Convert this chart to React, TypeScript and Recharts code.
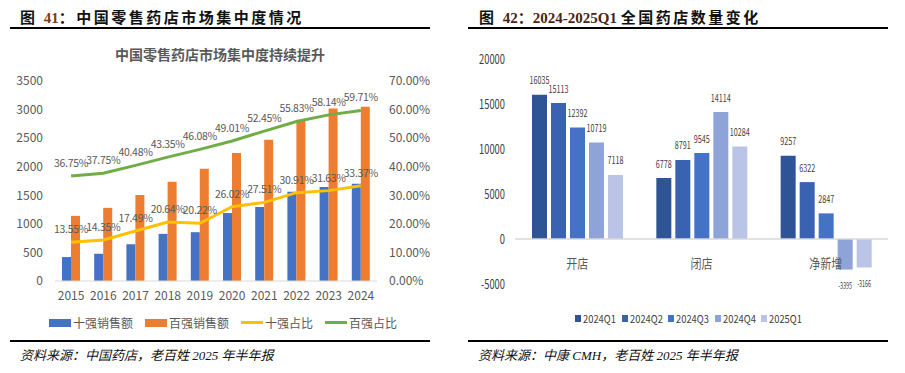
import React from 'react';
import {
  ComposedChart, Bar, Line, XAxis, YAxis, LabelList, ReferenceLine,
} from 'recharts';

// left chart: retail pharmacy concentration
const years = ['2015', '2016', '2017', '2018', '2019', '2020', '2021', '2022', '2023', '2024'];
const top10Sales = [419, 477, 641, 825, 854, 1189, 1295, 1560, 1643, 1702];
const top100Sales = [1140, 1280, 1505, 1735, 1965, 2239, 2470, 2822, 3020, 3050];
const top10Share = [13.55, 14.35, 17.49, 20.64, 20.22, 26.02, 27.51, 30.91, 31.63, 33.37];
const top100Share = [36.75, 37.75, 40.48, 43.35, 46.08, 49.01, 52.45, 55.83, 58.14, 59.71];

// right chart: store count changes
const storeCats = ['开店', '闭店', '净新增'];
const q2024Q1 = [16035, 6778, 9257];
const q2024Q2 = [15113, 8791, 6322];
const q2024Q3 = [12392, 9545, 2847];
const q2024Q4 = [10719, 14114, -3395];
const q2025Q1 = [7118, 10284, -3166];
const quarterNames = ['2024Q1', '2024Q2', '2024Q3', '2024Q4', '2025Q1'];
const quarterColors = ['#2F5496', '#3A62B3', '#4472C4', '#8EA4D8', '#B9C4E6'];

const leftData = years.map((y, i) => ({
  year: y,
  top10: top10Sales[i],
  top100: top100Sales[i],
  share10: top10Share[i],
  share100: top100Share[i],
}));

const quarterSeries = [q2024Q1, q2024Q2, q2024Q3, q2024Q4, q2025Q1];
const rightData = storeCats.map((c, i) => {
  const row: any = { cat: c };
  quarterNames.forEach((q, k) => { row[q] = quarterSeries[k][i]; });
  return row;
});

const CJK = "'Noto Sans CJK SC', 'Noto Sans', sans-serif";
const SERIF = "'Liberation Serif', 'Noto Sans CJK SC', serif";
const pct = (v: any) => `${Number(v).toFixed(2)}%`;

// the right chart uses a narrow font in the original, so squeeze text horizontally
const RightXTick = (props: any) => {
  const { x, y, payload } = props;
  return (
    <text transform={`translate(${x},${y - 21}) scale(0.85,1)`} dy="0.355em" textAnchor="middle" fill="#595959" fontSize={13} fontFamily={CJK}>
      {payload.value}
    </text>
  );
};

const RightYTick = (props: any) => {
  const { x, y, payload } = props;
  return (
    <text transform={`translate(${x},${y}) scale(0.72,1)`} dy="0.355em" textAnchor="end" fill="#404040" fontSize={13} fontFamily={CJK}>
      {payload.value}
    </text>
  );
};

const NarrowLabel = (props: any) => {
  const { x, y, width, height, value } = props;
  const top = Math.min(y, y + height);
  const bottom = Math.max(y, y + height);
  const cx = x + width / 2;
  const neg = value < 0;
  const ty = neg ? bottom + 16 : top - 14;
  return (
    <text transform={`translate(${cx},${ty}) scale(${neg ? 0.6 : 0.72},1)`} dy="0.355em" textAnchor="middle" fill="#404040" fontSize={neg ? 9 : 10} fontFamily={CJK}>
      {value}
    </text>
  );
};

export default function App() {
  return (
    <div style={{ position: 'absolute', left: 0, top: 0, width: 905, height: 373, background: '#fff', overflow: 'hidden' }}>
      <div style={{ position: 'absolute', left: 20, top: 6, fontFamily: SERIF, fontWeight: 700, fontSize: 15, letterSpacing: 2.5, color: '#111', whiteSpace: 'nowrap' }}>
        图 <span style={{ color: '#7F3A12', letterSpacing: 0 }}>41</span>：中国零售药店市场集中度情况
      </div>
      <div style={{ position: 'absolute', left: 10, top: 27, width: 420, height: 2, background: '#000' }} />
      <div style={{ position: 'absolute', left: 479, top: 6, fontWeight: 700, fontSize: 15, color: '#111', whiteSpace: 'nowrap' }}>
        <span style={{ fontFamily: SERIF, letterSpacing: 2.5 }}>图 </span>
        <span style={{ fontFamily: SERIF, color: '#4A2410' }}>42：2024-2025Q1 </span>
        <span style={{ fontFamily: CJK, letterSpacing: 2.5 }}>全国药店数量变化</span>
      </div>
      <div style={{ position: 'absolute', left: 468, top: 27, width: 420, height: 2, background: '#000' }} />

      <div style={{ position: 'absolute', left: 0, top: 44, width: 440, textAlign: 'center', fontFamily: CJK, fontSize: 14, fontWeight: 700, color: '#595959' }}>
        中国零售药店市场集中度持续提升
      </div>

      <div style={{ position: 'absolute', left: 0, top: 0 }}>
        <ComposedChart width={430} height={340} data={leftData} margin={{ top: 81, right: 0, bottom: 29, left: 0 }} barGap={0}>
          <XAxis dataKey="year" tickLine={false} tickSize={0} tickMargin={10} axisLine={{ stroke: '#D9D9D9' }} tick={{ fill: '#595959', fontSize: 12, fontFamily: CJK }} />
          <YAxis yAxisId="l" width={55} domain={[0, 3500]} ticks={[0, 500, 1000, 1500, 2000, 2500, 3000, 3500]} axisLine={false} tickLine={false} tickSize={0} tickMargin={12} tick={{ fill: '#595959', fontSize: 12, fontFamily: CJK }} />
          <YAxis yAxisId="r" orientation="right" width={53} domain={[0, 70]} ticks={[0, 10, 20, 30, 40, 50, 60, 70]} tickFormatter={pct} axisLine={false} tickLine={false} tickSize={0} tickMargin={12} tick={{ fill: '#595959', fontSize: 12, fontFamily: CJK, textAnchor: 'start' }} />
          <Bar yAxisId="l" dataKey="top10" fill="#4472C4" barSize={9} isAnimationActive={false} />
          <Bar yAxisId="l" dataKey="top100" fill="#ED7D31" barSize={9} isAnimationActive={false} />
          <Line yAxisId="r" dataKey="share10" stroke="#FFC000" strokeWidth={3} dot={false} isAnimationActive={false}>
            <LabelList dataKey="share10" position="top" offset={9} formatter={pct} fill="#595959" fontSize={10.5} letterSpacing={-0.3} fontFamily={CJK} />
          </Line>
          <Line yAxisId="r" dataKey="share100" stroke="#70AD47" strokeWidth={3} dot={false} isAnimationActive={false}>
            <LabelList dataKey="share100" position="top" offset={9} formatter={pct} fill="#595959" fontSize={10.5} letterSpacing={-0.3} fontFamily={CJK} />
          </Line>
        </ComposedChart>
      </div>

      <div style={{ position: 'absolute', left: 0, top: 314, width: 446, display: 'flex', justifyContent: 'center', gap: 12, fontFamily: CJK, fontSize: 12, color: '#595959' }}>
        {[['十强销售额', '#4472C4', 'bar'], ['百强销售额', '#ED7D31', 'bar'], ['十强占比', '#FFC000', 'line'], ['百强占比', '#70AD47', 'line']].map(([n, c, t]) => (
          <div key={n} style={{ display: 'flex', alignItems: 'center', gap: 2 }}>
            <div style={{ width: 22, height: t === 'bar' ? 8 : 3, background: c }} />
            <span>{n}</span>
          </div>
        ))}
      </div>

      <div style={{ position: 'absolute', left: 460, top: 0 }}>
        <ComposedChart width={445} height={340} data={rightData} margin={{ top: 59, right: 17, bottom: 26, left: 0 }} barGap={4}>
          <XAxis dataKey="cat" axisLine={false} tickLine={false} tickSize={0} tickMargin={0} tick={<RightXTick />} />
          <YAxis width={55} domain={[-5000, 20000]} ticks={[-5000, 0, 5000, 10000, 15000, 20000]} axisLine={false} tickLine={false} tickSize={0} tickMargin={10} tick={<RightYTick />} />
          <ReferenceLine y={0} stroke="#D9D9D9" strokeWidth={1.5} />
          {quarterNames.map((q, k) => (
            <Bar key={q} dataKey={q} fill={quarterColors[k]} barSize={15} isAnimationActive={false}>
              <LabelList dataKey={q} content={<NarrowLabel />} />
            </Bar>
          ))}
        </ComposedChart>
      </div>

      <div style={{ position: 'absolute', left: 575, top: 310, width: 228, display: 'flex', justifyContent: 'space-between', fontFamily: CJK, fontSize: 11, color: '#404040' }}>
        {quarterNames.map((q, k) => (
          <div key={q} style={{ display: 'flex', alignItems: 'center', gap: 2 }}>
            <div style={{ width: 6, height: 7, background: quarterColors[k] }} />
            <span style={{ display: 'inline-block', width: 34, transform: 'scaleX(0.85)', transformOrigin: 'left center' }}>{q}</span>
          </div>
        ))}
      </div>

      <div style={{ position: 'absolute', left: 10, top: 340, width: 420, height: 2, background: '#000' }} />
      <div style={{ position: 'absolute', left: 468, top: 340, width: 420, height: 2, background: '#000' }} />
      <div style={{ position: 'absolute', left: 20, top: 345, fontFamily: SERIF, fontStyle: 'italic', fontSize: 13, color: '#111', whiteSpace: 'nowrap' }}>
        资料来源：中国药店，老百姓 2025 年半年报
      </div>
      <div style={{ position: 'absolute', left: 478, top: 345, fontFamily: SERIF, fontStyle: 'italic', fontSize: 13, color: '#111', whiteSpace: 'nowrap' }}>
        资料来源：中康 CMH，老百姓 2025 年半年报
      </div>
    </div>
  );
}
